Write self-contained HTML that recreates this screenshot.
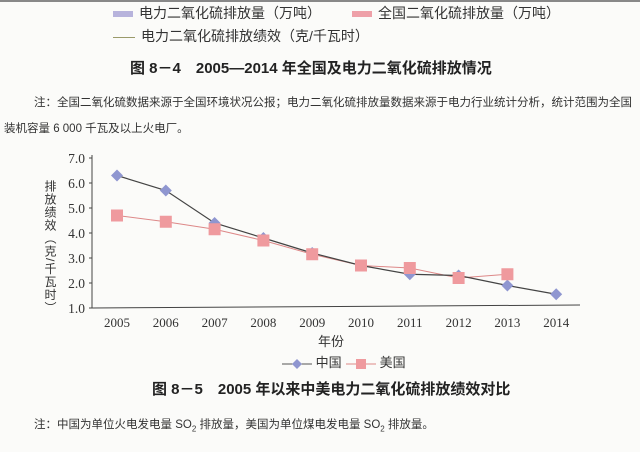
<!DOCTYPE html>
<html><head><meta charset="utf-8"><style>
body{margin:0;width:640px;height:452px;background:#fbfbf9;overflow:hidden;font-family:"Liberation Sans","Noto Sans CJK SC",sans-serif;color:#333;position:relative}
.t{position:absolute;white-space:nowrap}
</style></head><body>
<div style="position:absolute;left:0;top:0;width:640px;height:2px;background:#888"></div>
<div class="t" style="left:113px;top:3px;font-size:14px"><span style="display:inline-block;width:20px;height:6px;background:#b7b3dc;margin-right:6px;vertical-align:middle"></span>电力二氧化硫排放量（万吨）</div>
<div class="t" style="left:352px;top:3px;font-size:14px"><span style="display:inline-block;width:20px;height:6px;background:#eea0a8;margin-right:6px;vertical-align:middle"></span>全国二氧化硫排放量（万吨）</div>
<div class="t" style="left:113px;top:26px;font-size:14px"><span style="display:inline-block;width:22px;height:1px;background:#9a9a6a;margin-right:6px;vertical-align:middle"></span>电力二氧化硫排放绩效（克/千瓦时）</div>
<div class="t" style="left:130px;top:57px;font-size:15px;font-weight:bold;color:#222">图 8－4　2005—2014 年全国及电力二氧化硫排放情况</div>
<div class="t" style="left:34px;top:94px;font-size:11.5px">注：全国二氧化硫数据来源于全国环境状况公报；电力二氧化硫排放量数据来源于电力行业统计分析，统计范围为全国</div>
<div class="t" style="left:4px;top:120px;font-size:11.5px">装机容量 6 000 千瓦及以上火电厂。</div>
<svg width="640" height="452" style="position:absolute;left:0;top:0">
<g id="g"></g></svg>
<div class="t" style="left:42px;top:180px;font-size:12px;writing-mode:vertical-rl;letter-spacing:1px">排放绩效（克/千瓦时）</div>
<div class="t" style="left:318px;top:331px;font-size:13px">年份</div>
<div class="t" style="left:282px;top:352px;font-size:13px"><svg width="30" height="12" style="vertical-align:middle"><line x1="0" y1="6" x2="30" y2="6" stroke="#555"/><polygon points="15,1 20,6 15,11 10,6" fill="#8f96d0"/></svg> 中国</div>
<div class="t" style="left:346px;top:352px;font-size:13px"><svg width="30" height="12" style="vertical-align:middle"><line x1="0" y1="6" x2="30" y2="6" stroke="#d88"/><rect x="10" y="1" width="10" height="10" fill="#ef9a9e"/></svg> 美国</div>
<div class="t" style="left:152px;top:378px;font-size:15px;font-weight:bold;color:#222">图 8－5　2005 年以来中美电力二氧化硫排放绩效对比</div>
<div class="t" style="left:34px;top:416px;font-size:11.5px">注：中国为单位火电发电量 SO<sub style="font-size:8px">2</sub> 排放量，美国为单位煤电发电量 SO<sub style="font-size:8px">2</sub> 排放量。</div>
<script>
const years=["2005","2006","2007","2008","2009","2010","2011","2012","2013","2014"];
const china=[6.3,5.7,4.4,3.8,3.2,2.7,2.35,2.3,1.9,1.55];
const usa=[4.7,4.45,4.15,3.7,3.15,2.7,2.6,2.2,2.35];
const yTicks=["1.0","2.0","3.0","4.0","5.0","6.0","7.0"];
const X=i=>117+i*48.8, Y=v=>308-(v-1)*25;
const g=document.getElementById('g');const NS='http://www.w3.org/2000/svg';
function mk(t,a){const e=document.createElementNS(NS,t);for(const k in a)e.setAttribute(k,a[k]);g.appendChild(e);return e;}
let e=mk('line',{x1:92,y1:155,x2:92,y2:308,stroke:'#444'});


e=mk('line',{x1:92,y1:308,x2:580,y2:305,stroke:'#444'});


yTicks.forEach(t=>{const y=Y(parseFloat(t));mk('line',{x1:89,y1:y,x2:92,y2:y,stroke:'#444'});
const tx=mk('text',{x:85,y:y+5,'text-anchor':'end','font-size':13.5,'font-family':'Liberation Serif',fill:'#333'});tx.textContent=t;

});
years.forEach((t,i)=>{const tx=mk('text',{x:X(i),y:327,'text-anchor':'middle','font-size':13,'font-family':'Liberation Serif',fill:'#333'});tx.textContent=t;

});
e=mk('polyline',{points:usa.map((v,i)=>X(i)+','+Y(v)).join(' '),fill:'none',stroke:'#d88',"stroke-width":1});


e=mk('polyline',{points:china.map((v,i)=>X(i)+','+Y(v)).join(' '),fill:'none',stroke:'#444',"stroke-width":1.2});


china.forEach((v,i)=>{const x=X(i),y=Y(v);const p=mk('polygon',{points:`${x},${y-6} ${x+6},${y} ${x},${y+6} ${x-6},${y}`,fill:'#8f96d0'});

});
usa.forEach((v,i)=>{const r=mk('rect',{x:X(i)-6,y:Y(v)-6,width:12,height:12,fill:'#ef9a9e'});

});
</script>
</body></html>
